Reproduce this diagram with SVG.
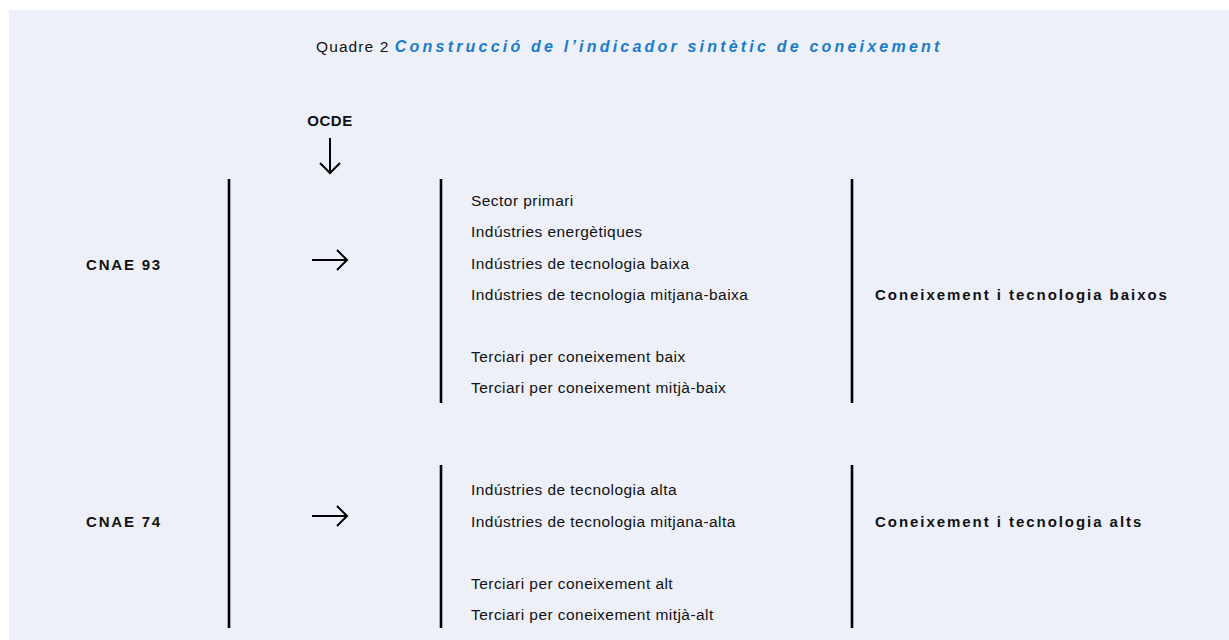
<svg xmlns="http://www.w3.org/2000/svg" width="1229" height="640" viewBox="0 0 1229 640">
<style>
.bg{fill:#edf0f8}
.bar{stroke:#000;stroke-width:2.6;fill:none}
.arr{stroke:#000;stroke-width:2;fill:none;stroke-linecap:butt}
.t{font-family:"Liberation Sans",Arial,sans-serif;font-size:15.5px;fill:#111;letter-spacing:0.45px}
.b{font-family:"Liberation Sans",Arial,sans-serif;font-size:15px;font-weight:bold;fill:#111;letter-spacing:1.8px}
.q{font-family:"Liberation Sans",Arial,sans-serif;font-size:15.5px;fill:#111;letter-spacing:1.1px}
.qt{font-family:"Liberation Sans",Arial,sans-serif;font-size:16px;font-weight:bold;font-style:italic;fill:#1a7cc8;letter-spacing:3.2px}
</style>
<rect class="bg" x="9" y="10" width="1220" height="630"/>
<g id="title"><text x="316" y="52"><tspan class="q">Quadre 2 </tspan><tspan class="qt">Construcció de l’indicador sintètic de coneixement</tspan></text></g>
<g id="ocde"><text class="b" x="330" y="126" text-anchor="middle" style="letter-spacing:0.5px">OCDE</text></g>
<g id="cnae93"><text class="b" x="86" y="270">CNAE 93</text></g>
<g id="cnae74"><text class="b" x="86" y="527">CNAE 74</text></g>
<g id="low-list">
<text class="t" x="471" y="206">Sector primari</text>
<text class="t" x="471" y="237">Indústries energètiques</text>
<text class="t" x="471" y="269">Indústries de tecnologia baixa</text>
<text class="t" x="471" y="300">Indústries de tecnologia mitjana-baixa</text>
<text class="t" x="471" y="362">Terciari per coneixement baix</text>
<text class="t" x="471" y="393">Terciari per coneixement mitjà-baix</text>
</g>
<g id="high-list">
<text class="t" x="471" y="495">Indústries de tecnologia alta</text>
<text class="t" x="471" y="527">Indústries de tecnologia mitjana-alta</text>
<text class="t" x="471" y="589">Terciari per coneixement alt</text>
<text class="t" x="471" y="620">Terciari per coneixement mitjà-alt</text>
</g>
<g id="low-result"><text class="b" x="875" y="300" style="letter-spacing:1.95px">Coneixement i tecnologia baixos</text></g>
<g id="high-result"><text class="b" x="875" y="527" style="letter-spacing:1.95px">Coneixement i tecnologia alts</text></g>
<g id="connectors">
<line class="bar" x1="229" y1="179" x2="229" y2="628"/>
<line class="bar" x1="441" y1="179" x2="441" y2="403"/>
<line class="bar" x1="852" y1="179" x2="852" y2="403"/>
<line class="bar" x1="441" y1="465" x2="441" y2="628"/>
<line class="bar" x1="852" y1="465" x2="852" y2="628"/>
<path class="arr" d="M330 138V173M320 163L330 173L340 163"/>
<path class="arr" d="M312 260H347M337 250L347 260L337 270"/>
<path class="arr" d="M312 516H347M337 506L347 516L337 526"/>
</g>
</svg>
